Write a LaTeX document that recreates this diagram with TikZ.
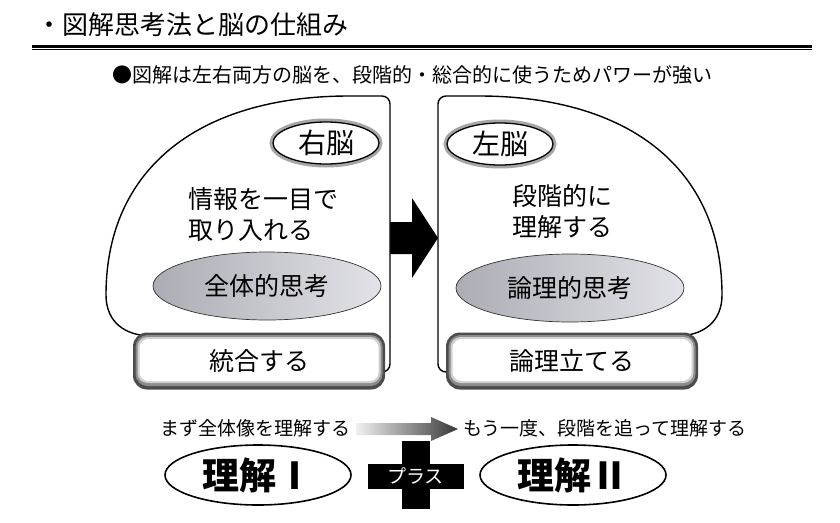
\documentclass[tikz,border=0pt]{standalone}
\usepackage{fontspec}
\newfontfamily\jp{Noto Sans CJK JP}
\usetikzlibrary{calc, positioning, shapes.geometric}
\definecolor{ovaldark}{RGB}{172,172,180}
\definecolor{ovallight}{RGB}{226,226,232}

\begin{document}
\begin{tikzpicture}[
        x=1pt, y=-1pt,
        every node/.style={font=\jp, inner sep=0pt},
        panel/.style={draw, line width=1.4pt, fill=white},
        brain/.style={ellipse, draw, line width=1.3pt, fill=white, minimum width=106pt, minimum height=42pt,
            font=\jp\fontsize{28}{28}\selectfont, preaction={draw=black!35, line width=7pt}},
        desc/.style={align=left, font=\jp\fontsize{25}{31}\selectfont},
        think/.style={ellipse, draw=black!80, line width=0.7pt, left color=ovaldark, right color=ovallight,
            minimum width=228pt, minimum height=68pt, font=\jp\fontsize{25}{25}\selectfont},
        bevelbox/.style={rounded corners=14pt, fill=black!70, minimum width=252pt, minimum height=57pt,
            font=\jp\fontsize{25}{25}\selectfont,
            path picture={
                \fill[black!45, rounded corners=12pt] ([shift={(2.5pt,3.5pt)}]path picture bounding box.south west)
                    rectangle ([shift={(-2.5pt,-2.5pt)}]path picture bounding box.north east);
                \fill[black!18, rounded corners=10pt] ([shift={(4.5pt,6.5pt)}]path picture bounding box.south west)
                    rectangle ([shift={(-4.5pt,-4.5pt)}]path picture bounding box.north east);
                \fill[white, rounded corners=9pt] ([shift={(6.5pt,8.5pt)}]path picture bounding box.south west)
                    rectangle ([shift={(-6.5pt,-6.5pt)}]path picture bounding box.north east);
            }},
        stage/.style={font=\jp\fontsize{19}{19}\selectfont},
        grasp/.style={ellipse, draw, line width=1.6pt, minimum width=186pt, minimum height=60pt,
            font=\jp\bfseries\fontsize{37}{37}\selectfont},
        plusbar/.style={fill=black, text=white, minimum width=96pt, minimum height=25pt,
            font=\jp\fontsize{19}{19}\selectfont}
    ]
    \useasboundingbox (0,0) rectangle (840,522);

    % heading
    \node[anchor=west, font=\jp\fontsize{26}{26}\selectfont] (title) at (36,25) {・図解思考法と脳の仕組み};
    \draw[line width=2.5pt] (32,46.5) -- (812,46.5);
    \draw[line width=1pt] (32,49.8) -- (812,49.8);
    \node[font=\jp\fontsize{20}{20}\selectfont] (lead) at (412,75)
        {●図解は左右両方の脳を、段階的・総合的に使うためパワーが強い};

    % arrow between the two halves
    \coordinate (lp) at (390,238);
    \coordinate (rp) at (438,238);
    \fill ($(lp)+(0,-16)$) -- ($(rp)+(-26,-16)$) -- ($(rp)+(-26,-40)$) -- (rp)
        -- ($(rp)+(-26,40)$) -- ($(rp)+(-26,16)$) -- ($(lp)+(0,16)$) -- cycle;

    % right brain (left half)
    \draw[panel] (152,336) -- (375,372) [rounded corners=8pt] -- (390,372) -- (390,96) -- (340,96)
        [sharp corners] .. controls (190,102) and (106,175) .. (106,295)
        .. controls (106,322) and (125,336) .. (152,336) -- cycle;
    % left brain (right half)
    \draw[panel] (676,336) -- (453,372) [rounded corners=8pt] -- (438,372) -- (438,96) -- (488,96)
        [sharp corners] .. controls (638,102) and (722,175) .. (722,295)
        .. controls (722,322) and (703,336) .. (676,336) -- cycle;

    \node[brain] (rb) at (326,143) {右脳};
    \node[brain] (lb) at (500,144) {左脳};
    \node[desc, anchor=west] (rdesc) at (188,214) {情報を一目で\\取り入れる};
    \node[desc, anchor=west] (ldesc) at (512,211) {段階的に\\理解する};
    \node[think] (rthink) at (267,286) {全体的思考};
    \node[think] (lthink) at (570,288) {論理的思考};
    \node[bevelbox] (rbox) at (259,361) {統合する};
    \node[bevelbox] (lbox) at (572,361) {論理立てる};

    % two steps
    \node[stage, anchor=west] (first) at (160,428) {まず全体像を理解する};
    \node[stage, anchor=west] (second) at (463,428) {もう一度、段階を追って理解する};
    \coordinate (ga) at ($(first.east)+(6,1)$);
    \coordinate (gb) at ($(second.west)+(-5,1)$);
    \shade[left color=black!6, right color=black!78]
        ($(ga)+(0,-6)$) -- ($(gb)+(-27,-6)$) -- ($(gb)+(-27,-12)$) -- (gb)
        -- ($(gb)+(-27,12)$) -- ($(gb)+(-27,6)$) -- ($(ga)+(0,6)$) -- cycle;

    \node[grasp] (u1) at (258,475) {理解Ⅰ};
    \node[grasp] (u2) at (573,475) {理解Ⅱ};
    \coordinate (mid) at ($(u1.east)!0.5!(u2.west)$);
    \fill ($(mid)+(-14,-34)$) rectangle ($(mid)+(14,34)$);
    \node[plusbar] (plus) at ($(mid)+(0,1)$) {プラス};
\end{tikzpicture}
\end{document}
